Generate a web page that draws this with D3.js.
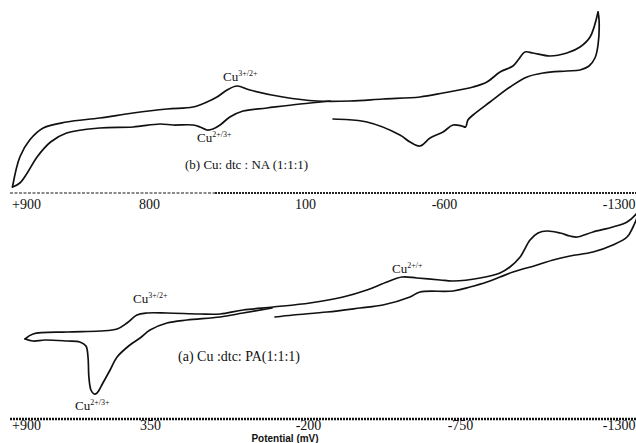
<!DOCTYPE html>
<html>
<head>
<meta charset="utf-8">
<script src="https://cdn.jsdelivr.net/npm/d3@7"></script>
<style>
  body { margin: 0; background: #fff; }
  svg { display: block; overflow: hidden; }
  .curve { fill: none; stroke: #111; stroke-width: 1.7; stroke-linejoin: round; stroke-linecap: round; }
  .tick text { font-family: "Liberation Serif", serif; font-size: 14px; fill: #111; }
  .lbl { font-family: "Liberation Serif", serif; fill: #111; }
</style>
</head>
<body>
<script>
// tick labels (mV) of the two potential axes
const topTicks = [900, 800, 100, -600, -1300];
const botTicks = [900, 350, -200, -750, -1300];

// (b) Cu : dtc : NA  -- [potential mV, current a.u.]
const topForward = [
  [911, 6], [905, 36], [897, 53], [886, 65], [867, 71], [840, 75], [813, 80],
  [719, 84], [603, 86], [540, 91], [495, 96], [450, 103], [405, 107], [347, 103],
  [199, 96], [40, 92], [-127, 92], [-293, 94], [-479, 96], [-595, 100], [-713, 106],
  [-767, 111], [-818, 121], [-868, 127], [-888, 133], [-915, 141], [-946, 140],
  [-1012, 137], [-1078, 140], [-1129, 146], [-1168, 156], [-1199, 181]
];
const topReturnA = [
  [-1199, 181], [-1203, 173], [-1199, 148], [-1187, 135], [-1164, 127], [-1129, 123],
  [-1078, 122], [-985, 120], [-923, 116], [-857, 106], [-779, 91], [-713, 78],
  [-693, 73], [-684, 66], [-670, 67], [-635, 68], [-595, 61], [-530, 55], [-479, 47],
  [-429, 51], [-378, 58], [-212, 71], [-41, 74]
];
const topReturnB = [
  [-26, 92], [122, 89], [270, 85], [378, 82], [437, 76], [481, 68], [513, 64],
  [540, 63], [571, 66], [603, 68], [692, 68], [751, 69], [813, 66], [840, 65],
  [867, 60], [880, 51], [891, 36], [899, 20], [905, 10], [911, 6]
];

// (a) Cu : dtc : PA
const botForward = [
  [904, 81], [869, 86], [718, 88], [572, 89], [496, 91], [452, 97], [408, 105],
  [363, 107], [291, 107], [176, 106], [106, 106], [26, 110], [-78, 113], [-207, 117],
  [-327, 123], [-413, 130], [-486, 138], [-540, 143], [-594, 142], [-678, 140],
  [-725, 139], [-821, 142], [-891, 147], [-926, 153], [-962, 163], [-997, 180],
  [-1025, 187], [-1057, 189], [-1103, 187], [-1138, 184], [-1163, 183], [-1219, 188],
  [-1289, 193], [-1339, 198], [-1371, 206], [-1392, 215]
];
const botReturnA = [
  [-1392, 215], [-1371, 200], [-1360, 193], [-1339, 183], [-1289, 175], [-1219, 168],
  [-1138, 164], [-1078, 160], [-1022, 155], [-937, 148], [-891, 143], [-845, 138],
  [-785, 133], [-725, 129], [-605, 128], [-569, 123], [-471, 115], [-388, 112],
  [-269, 108], [-148, 105], [-85, 103]
];
const botReturnB = [
  [-75, 112], [26, 107], [106, 103], [221, 100], [291, 97], [350, 90], [394, 82],
  [439, 75], [496, 63], [527, 50], [559, 37], [585, 27], [598, 26], [612, 30],
  [621, 43], [625, 63], [634, 74], [661, 78], [718, 79], [816, 80], [869, 79], [904, 81]
];

const W = 636, H = 443;
const svg = d3.select(document.body).append('svg')
  .attr('width', W).attr('height', H);

drawPanel({
  ticks: topTicks,
  tickPx: [26, 149, 305, 444, 624],
  axisY: 193, lineY: 193, yMax: 190, pad: 6,
  curves: [topForward, topReturnA, topReturnB],
  light: true
});

drawPanel({
  ticks: botTicks,
  tickPx: [26, 150, 308, 460, 616],
  axisY: 420, lineY: 419, yMax: 220, pad: 0,
  curves: [botForward, botReturnA, botReturnB],
  light: false
});

// peak labels
cuLabel(223, 81, '3+/2+');
cuLabel(197, 142, '2+/3+');
cuLabel(133, 303, '3+/2+');
cuLabel(392, 273, '2+/+');
cuLabel(75, 410, '2+/3+');

svg.append('text').attr('class', 'lbl')
  .attr('x', 185).attr('y', 169).attr('font-size', 13)
  .text('(b) Cu: dtc : NA (1:1:1)');
svg.append('text').attr('class', 'lbl')
  .attr('x', 178).attr('y', 361).attr('font-size', 14)
  .text('(a) Cu :dtc: PA(1:1:1)');

svg.append('text')
  .attr('x', 285).attr('y', 442)
  .attr('text-anchor', 'middle')
  .attr('font-family', '"Liberation Sans", Arial, sans-serif')
  .attr('font-weight', 'bold').attr('font-size', 10)
  .attr('fill', '#111')
  .text('Potential (mV)');

function drawPanel(p){
  const x = d3.scaleLinear().domain(p.ticks).range(p.tickPx);
  const y = d3.scaleLinear().domain([0, p.yMax]).range([p.axisY, p.axisY - p.yMax]);

  const line = d3.line()
    .x(d => x(d[0]))
    .y(d => y(d[1]))
    .curve(d3.curveCatmullRom.alpha(0.5));

  svg.append('g').selectAll('path')
    .data(p.curves)
    .enter()
    .append('path')
    .attr('class', 'curve')
    .attr('d', line);

  // dotted base line of the axis
  if (p.light) {
    svg.append('line')
      .attr('x1', 10).attr('x2', 215).attr('y1', p.lineY).attr('y2', p.lineY)
      .attr('stroke', '#666').attr('stroke-width', 1.3)
      .attr('stroke-dasharray', '3,1.5');
    svg.append('line')
      .attr('x1', 215).attr('x2', W).attr('y1', p.lineY).attr('y2', p.lineY)
      .attr('stroke', '#222').attr('stroke-width', 2.2)
      .attr('stroke-dasharray', '2,1');
  } else {
    svg.append('line')
      .attr('x1', 10).attr('x2', W).attr('y1', p.lineY).attr('y2', p.lineY)
      .attr('stroke', '#111').attr('stroke-width', 2.4)
      .attr('stroke-dasharray', '2,1');
  }

  const axis = d3.axisBottom(x)
    .tickValues(p.ticks)
    .tickSize(0)
    .tickPadding(p.pad)
    .tickFormat(d => (d === 900 ? '+' : '') + d);

  const g = svg.append('g')
    .attr('transform', `translate(0,${p.axisY})`)
    .call(axis);
  g.select('.domain').remove();
  // keep the last label inside the frame
  g.selectAll('.tick text')
    .filter(d => d === -1300)
    .attr('text-anchor', 'end')
    .attr('x', W - 1 - x(-1300));
}

function cuLabel(px, py, sup){
  const t = svg.append('text').attr('class', 'lbl')
    .attr('x', px).attr('y', py).attr('font-size', 13);
  t.append('tspan').text('Cu');
  t.append('tspan').attr('font-size', 8).attr('dy', -5).text(sup);
}
</script>
</body>
</html>
